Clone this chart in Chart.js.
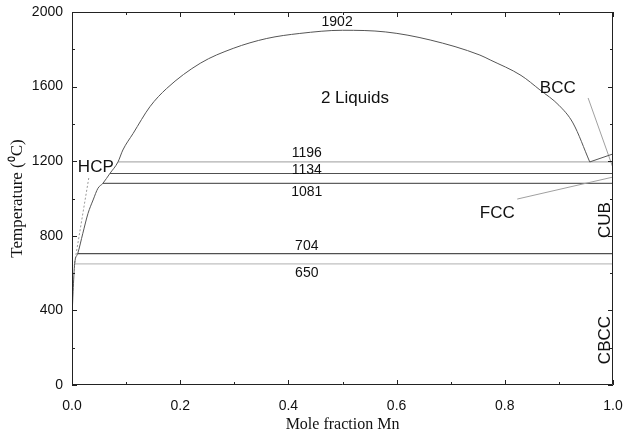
<!DOCTYPE html>
<html>
<head>
<meta charset="utf-8">
<script src="https://cdn.jsdelivr.net/npm/chart.js@4.4.1/dist/chart.umd.min.js"></script>
<style>
  html, body { margin: 0; padding: 0; background: #fff; }
  #wrap { width: 625px; height: 434px; }
</style>
</head>
<body>
<div id="wrap"><canvas id="phaseChart" width="625" height="434"></canvas></div>
<script>
// Miscibility gap boundary (mole fraction Mn, temperature in C)
const gapX = [0.0, 0.002, 0.005, 0.0105, 0.02, 0.0296, 0.039, 0.048, 0.057, 0.07, 0.085, 0.094, 0.113, 0.144, 0.175, 0.237, 0.298, 0.36, 0.421, 0.5, 0.58, 0.662, 0.754, 0.773, 0.83, 0.865, 0.9, 0.926, 0.957];
const gapT = [358, 500, 652, 704, 813, 920, 992, 1055, 1081, 1134, 1196, 1260, 1349, 1492, 1590, 1725, 1805, 1858, 1885, 1902, 1893, 1850, 1769, 1743, 1660, 1582, 1500, 1405, 1196];

// BCC liquidus near pure Mn
const bccX = [0.957, 1.0];
const bccT = [1196, 1239];

// Invariant temperatures and where each line starts
const invT = [1196, 1134, 1081, 704, 650];
const invStart = [0.085, 0.07, 0.057, 0.0105, 0.004];
const invColor = ['#b0b0b0', '#505050', '#606060', '#505050', '#c0c0c0'];

// Leader lines for the phase labels
const hcpLeadX = [0.031, 0.004];
const hcpLeadT = [1110, 640];
const bccLeadX = [0.954, 1.0];
const bccLeadT = [1539, 1164];
const fccLeadX = [0.823, 1.0];
const fccLeadT = [997, 1115];

// Axis ranges
const xTicks = [0, 0.2, 0.4, 0.6, 0.8, 1.0];
const yTicks = [0, 400, 800, 1200, 1600, 2000];

function pts(xs, ys) {
  return xs.map((x, i) => ({ x: x, y: ys[i] }));
}

const datasets = [
  { data: pts(gapX, gapT), borderColor: '#555', borderWidth: 1, cubicInterpolationMode: 'monotone' },
  { data: pts(bccX, bccT), borderColor: '#555', borderWidth: 1 },
  { data: pts(hcpLeadX, hcpLeadT), borderColor: '#999', borderWidth: 1, borderDash: [2, 2] },
  { data: pts(bccLeadX, bccLeadT), borderColor: '#a0a0a0', borderWidth: 1 },
  { data: pts(fccLeadX, fccLeadT), borderColor: '#a0a0a0', borderWidth: 1 }
];
invT.forEach((t, i) => {
  datasets.push({ data: pts([invStart[i], 1.0], [t, t]), borderColor: invColor[i], borderWidth: 1.2 });
});
datasets.forEach(d => {
  d.showLine = true;
  d.pointRadius = 0;
  d.fill = false;
});

// Text labels placed in data coordinates
const textLabels = [
  { text: String(Math.max(...gapT)), x: 0.49, y: 1946, size: 14 },
  { text: '2 Liquids', x: 0.523, y: 1539, size: 17 },
  { text: 'BCC', x: 0.898, y: 1592, size: 17 },
  { text: 'HCP', x: 0.044, y: 1169, size: 17 },
  { text: 'FCC', x: 0.786, y: 922, size: 17 },
  { text: String(invT[0]), x: 0.434, y: 1244, size: 14 },
  { text: String(invT[1]), x: 0.434, y: 1153, size: 14 },
  { text: String(invT[2]), x: 0.434, y: 1035, size: 14 },
  { text: String(invT[3]), x: 0.434, y: 745, size: 14 },
  { text: String(invT[4]), x: 0.434, y: 601, size: 14 },
  { text: 'CUB', x: 0.985, y: 884, size: 17, rotate: true },
  { text: 'CBCC', x: 0.985, y: 241, size: 17, rotate: true }
];

// Draws labels, the frame, and inward major/minor ticks on all four sides
const decorations = {
  id: 'decorations',
  afterDatasetsDraw(chart) {
    const { ctx, chartArea: a, scales } = chart;
    const xs = scales.x, ys = scales.y;
    ctx.save();
    ctx.fillStyle = '#111';
    ctx.textAlign = 'center';
    ctx.textBaseline = 'middle';
    textLabels.forEach(l => {
      ctx.font = l.size + 'px "Liberation Sans", Arial, sans-serif';
      const px = xs.getPixelForValue(l.x);
      const py = ys.getPixelForValue(l.y);
      if (l.rotate) {
        ctx.save();
        ctx.translate(px, py);
        ctx.rotate(-Math.PI / 2);
        ctx.fillText(l.text, 0, 0);
        ctx.restore();
      } else {
        ctx.fillText(l.text, px, py);
      }
    });

    ctx.strokeStyle = '#222';
    ctx.lineWidth = 1;
    ctx.beginPath();
    ctx.rect(a.left + 0.5, a.top + 0.5, a.right - a.left - 1, a.bottom - a.top - 1);
    ctx.stroke();

    ctx.beginPath();
    for (let v = 0; v <= 10; v++) {
      const px = Math.round(xs.getPixelForValue(v / 10)) + 0.5;
      const len = v % 2 === 0 ? 5 : 3;
      ctx.moveTo(px, a.bottom); ctx.lineTo(px, a.bottom - len);
      ctx.moveTo(px, a.top); ctx.lineTo(px, a.top + len);
    }
    for (let v = 0; v <= 2000; v += 200) {
      const py = Math.round(ys.getPixelForValue(v)) + 0.5;
      const len = v % 400 === 0 ? 5 : 3;
      ctx.moveTo(a.left, py); ctx.lineTo(a.left + len, py);
      ctx.moveTo(a.right, py); ctx.lineTo(a.right - len, py);
    }
    ctx.stroke();
    ctx.restore();
  }
};

new Chart(document.getElementById('phaseChart'), {
  type: 'scatter',
  data: { datasets: datasets },
  options: {
    responsive: false,
    animation: false,
    layout: { padding: { top: 12, right: 12, left: 0, bottom: 0 } },
    plugins: { legend: { display: false }, tooltip: { enabled: false } },
    scales: {
      x: {
        type: 'linear',
        min: xTicks[0],
        max: xTicks[xTicks.length - 1],
        afterBuildTicks: s => { s.ticks = xTicks.map(v => ({ value: v })); },
        afterFit: s => {
          s.height = 49;
          s.paddingLeft = 0;
          s.paddingRight = 0;
        },
        grid: { display: false, drawTicks: false },
        border: { display: false },
        ticks: {
          padding: 13,
          color: '#111',
          font: { family: '"Liberation Sans", Arial, sans-serif', size: 14 },
          callback: v => Number(v).toFixed(1)
        },
        title: {
          display: true,
          text: 'Mole fraction Mn',
          color: '#111',
          padding: { top: 2, bottom: 0 },
          font: { family: '"Liberation Serif", "Times New Roman", serif', size: 16 }
        }
      },
      y: {
        type: 'linear',
        min: yTicks[0],
        max: yTicks[yTicks.length - 1],
        afterBuildTicks: s => { s.ticks = yTicks.map(v => ({ value: v })); },
        afterFit: s => {
          s.width = 72;
          s.paddingTop = 0;
          s.paddingBottom = 0;
        },
        grid: { display: false, drawTicks: false },
        border: { display: false },
        ticks: {
          padding: 9,
          color: '#111',
          font: { family: '"Liberation Sans", Arial, sans-serif', size: 14 },
          callback: v => String(v)
        },
        title: {
          display: true,
          text: 'Temperature (\u2070C)',
          color: '#111',
          padding: { top: 7, bottom: 0 },
          font: { family: '"Liberation Serif", "Times New Roman", serif', size: 17 }
        }
      }
    }
  },
  plugins: [decorations]
});
</script>
</body>
</html>
